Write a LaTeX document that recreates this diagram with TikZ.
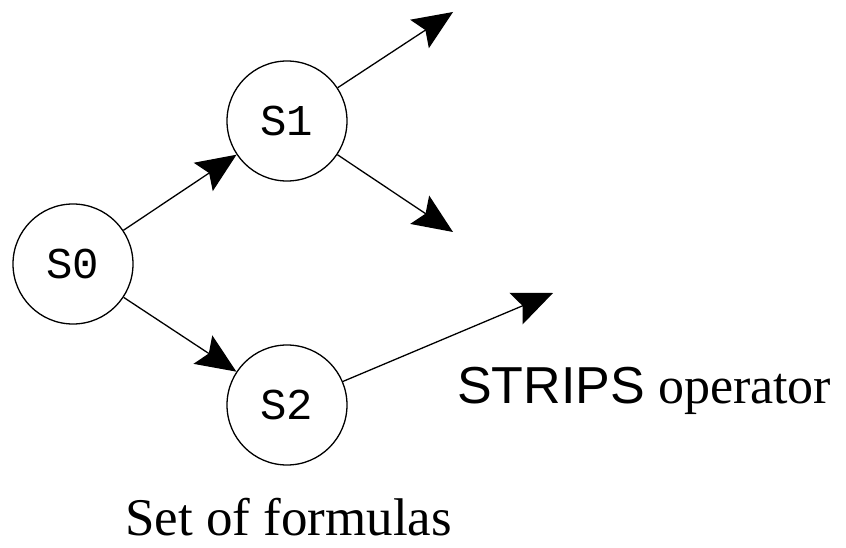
\documentclass[tikz,border=0pt]{standalone}
\usepackage{fontspec}
\setmainfont{Liberation Serif}
\newfontfamily\labsans{Liberation Sans}
\newfontfamily\labmono{Liberation Mono}
\usetikzlibrary{arrows.meta}
\tikzset{
  state/.style={circle, draw, line width=1.3pt, minimum size=120pt, inner sep=0pt,
    font=\labmono\fontsize{44}{50}\selectfont},
  conn/.style={line width=1.3pt, -{Stealth[length=40pt,width=34pt,inset=7pt]}},
  caption/.style={inner sep=0pt, anchor=base west}
}
\begin{document}
\begin{tikzpicture}[x=1pt,y=-1pt]
\useasboundingbox (0,0) rectangle (846,548);
\node[state] (s0) at (73,264) {S0};
\node[state] (s1) at (287,121) {S1};
\node[state] (s2) at (287,405) {S2};
\coordinate (a1) at (453,12);
\coordinate (a2) at (453,232);
\coordinate (a3) at (553,293);
\draw[conn] (s0) -- (s1);
\draw[conn] (s0) -- (s2);
\draw[conn] (s1) -- (a1);
\draw[conn] (s1) -- (a2);
\draw[conn] (s2) -- (a3);
\node[caption, font=\fontsize{52}{60}\selectfont] (op) at (457,403) {{\labsans STRIPS} operator};
\node[caption, font=\fontsize{53}{60}\selectfont] (sf) at (125,535) {Set of formulas};
\end{tikzpicture}
\end{document}
